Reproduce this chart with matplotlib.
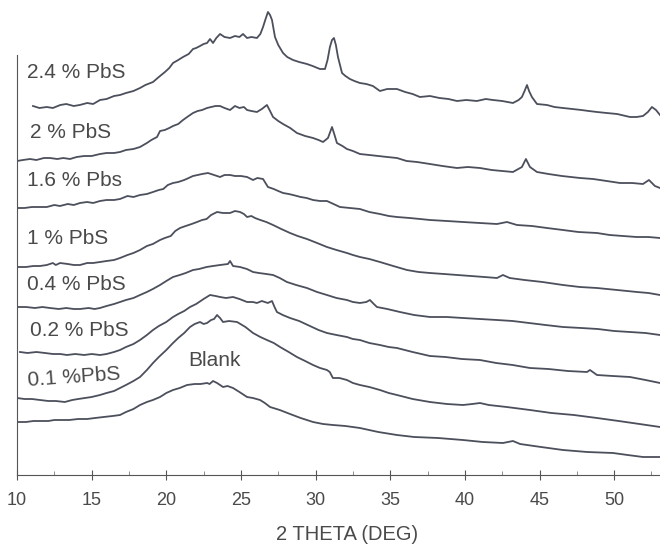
import matplotlib
matplotlib.use("Agg")
import matplotlib.pyplot as plt
import numpy as np

# (2 theta in deg, stacked intensity in arb. units)
pts_24 = [(11.07, 369), (11.5, 367), (12.0, 368), (12.4, 367), (12.9, 370), (13.3, 371), (13.8, 369),
          (14.2, 370), (14.7, 372), (15.1, 371), (15.56, 375), (16.0, 376), (16.5, 379), (16.9, 380),
          (17.3, 382), (17.8, 384), (18.24, 387), (18.6, 390), (19.11, 393), (19.5, 398), (19.91, 403),
          (20.2, 407), (20.45, 412), (20.8, 415), (21.12, 418), (21.5, 421), (21.79, 426), (22.0, 427),
          (22.26, 429), (22.5, 431), (22.73, 432), (22.93, 436), (23.13, 432), (23.35, 437), (23.6, 441),
          (23.9, 438), (24.27, 437), (24.6, 439), (24.9, 438), (25.14, 441), (25.41, 437), (25.7, 438),
          (26.07, 437), (26.3, 441), (26.48, 448), (26.65, 456), (26.81, 463), (26.95, 460), (27.08, 455),
          (27.28, 438), (27.5, 430), (27.82, 422), (28.1, 418), (28.49, 415), (28.9, 413), (29.42, 411),
          (29.8, 409), (30.29, 406), (30.63, 406), (30.8, 415), (30.96, 428), (31.1, 435), (31.23, 437),
          (31.36, 430), (31.5, 418), (31.77, 402), (32.0, 399), (32.3, 396), (32.6, 394), (32.97, 392),
          (33.4, 391), (33.84, 389), (34.31, 384), (34.8, 386), (35.45, 386), (36.0, 383), (36.5, 381),
          (36.99, 378), (37.66, 379), (38.3, 377), (38.9, 376), (39.47, 374), (40.1, 375), (40.8, 374),
          (41.4, 376), (41.88, 375), (42.5, 374), (43.22, 372), (43.6, 375), (43.82, 378), (44.0, 384),
          (44.16, 390), (44.3, 384), (44.49, 378), (44.83, 371), (45.5, 370), (46.0, 368), (46.57, 367),
          (47.2, 366), (47.8, 365), (48.3, 364), (48.85, 363), (49.5, 362), (50.2, 361), (51.06, 358),
          (51.5, 358), (51.93, 359), (52.26, 363), (52.53, 368), (52.8, 365), (53.07, 360)]

pts_2 = [(10.0, 314), (10.4, 315), (10.87, 316), (11.3, 315), (11.8, 317), (12.21, 317), (12.7, 316),
         (13.1, 317), (13.55, 316), (14.0, 318), (14.5, 319), (15.0, 319), (15.56, 321), (16.0, 322),
         (16.5, 322), (16.9, 323), (17.3, 325), (17.8, 326), (18.24, 328), (18.7, 332), (19.0, 335),
         (19.38, 338), (19.58, 344), (19.9, 345), (20.2, 347), (20.45, 349), (20.8, 351), (21.12, 355),
         (21.4, 358), (21.79, 362), (22.1, 364), (22.4, 365), (22.73, 367), (23.0, 368), (23.3, 369),
         (23.6, 369), (23.9, 367), (24.27, 365), (24.6, 369), (24.9, 367), (25.2, 368), (25.41, 365),
         (25.7, 364), (26.07, 363), (26.4, 366), (26.74, 370), (26.95, 364), (27.15, 358), (27.5, 354),
         (27.82, 351), (28.3, 347), (28.75, 342), (29.3, 339), (29.83, 337), (30.2, 335), (30.5, 333),
         (30.83, 337), (31.1, 348), (31.25, 341), (31.43, 332), (31.8, 329), (32.1, 326), (32.5, 324),
         (32.97, 321), (33.6, 320), (34.2, 319), (34.8, 318), (35.45, 317), (36.1, 314), (36.8, 313),
         (37.66, 311), (38.5, 309), (39.47, 307), (40.2, 308), (41.01, 307), (41.8, 305), (42.5, 304),
         (43.22, 303), (43.82, 308), (44.09, 316), (44.36, 308), (44.83, 303), (45.6, 301), (46.5, 299),
         (47.71, 297), (48.6, 296), (49.5, 294), (50.39, 292), (51.2, 292), (51.93, 291), (52.33, 295),
         (52.73, 289), (53.07, 287)]

pts_16 = [(10.0, 267), (10.5, 267), (11.0, 268), (11.54, 268), (12.0, 268), (12.5, 270), (12.88, 269),
          (13.4, 271), (13.8, 270), (14.22, 272), (14.7, 273), (15.1, 272), (15.56, 274), (16.0, 275),
          (16.5, 275), (16.9, 276), (17.4, 279), (17.8, 278), (18.24, 280), (18.7, 281), (19.11, 283),
          (19.5, 285), (19.8, 286), (20.1, 290), (20.45, 292), (20.8, 293), (21.2, 295), (21.5, 297),
          (21.79, 299), (22.1, 300), (22.4, 301), (22.79, 302), (23.2, 300), (23.6, 298), (23.9, 300),
          (24.27, 300), (24.6, 299), (25.0, 299), (25.41, 298), (25.81, 295), (26.1, 297), (26.48, 296),
          (26.81, 288), (27.2, 286), (27.5, 284), (27.82, 282), (28.2, 281), (28.49, 280), (29.0, 278),
          (29.4, 277), (29.83, 275), (30.3, 274), (30.76, 274), (31.2, 271), (31.63, 268), (32.3, 267),
          (32.97, 266), (33.6, 263), (34.31, 261), (34.9, 259), (35.45, 258), (36.3, 257), (37.0, 256),
          (37.66, 255), (38.8, 254), (39.87, 253), (41.0, 252), (42.15, 251), (42.82, 253), (43.49, 250),
          (44.5, 249), (45.5, 247), (46.57, 245), (47.6, 243), (48.85, 242), (49.7, 240), (50.59, 239),
          (51.5, 238), (52.3, 238), (53.07, 237)]

pts_1 = [(10.0, 208), (10.6, 208), (11.1, 209), (11.54, 209), (12.0, 210), (12.4, 212), (12.6, 210),
         (12.88, 212), (13.4, 211), (13.8, 210), (14.22, 210), (14.7, 212), (15.1, 212), (15.56, 213),
         (16.0, 214), (16.5, 215), (16.9, 217), (17.4, 220), (17.8, 222), (18.24, 225), (18.7, 229),
         (19.1, 231), (19.58, 235), (19.9, 237), (20.3, 239), (20.6, 244), (20.92, 247), (21.3, 249),
         (21.7, 251), (22.06, 253), (22.4, 255), (22.7, 256), (23.0, 260), (23.4, 263), (23.8, 262),
         (24.27, 262), (24.6, 264), (24.94, 263), (25.2, 261), (25.41, 258), (25.7, 259), (25.94, 257),
         (26.3, 255), (26.7, 253), (27.15, 250), (27.7, 246), (28.29, 242), (28.8, 239), (29.42, 236),
         (30.1, 232), (30.76, 228), (31.4, 225), (32.1, 222), (32.5, 220), (32.97, 218), (33.6, 216),
         (34.31, 213), (35.2, 209), (36.12, 205), (36.9, 203), (37.66, 202), (38.6, 201), (39.5, 200),
         (40.4, 199), (41.3, 198), (42.15, 197), (42.55, 200), (43.0, 197), (44.0, 195), (45.2, 193),
         (46.57, 190), (47.7, 188), (48.85, 187), (50.2, 185), (51.53, 183), (52.3, 182), (53.07, 180)]

pts_04 = [(10.0, 168), (10.6, 168), (11.2, 167), (11.7, 168), (12.21, 167), (12.8, 166), (13.3, 167),
          (13.8, 166), (14.22, 166), (14.8, 167), (15.2, 166), (15.56, 167), (16.0, 169), (16.5, 171),
          (16.9, 173), (17.3, 175), (17.8, 177), (18.24, 180), (18.7, 183), (19.1, 186), (19.58, 190),
          (20.0, 194), (20.45, 198), (20.9, 200), (21.3, 202), (21.79, 205), (22.2, 206), (22.7, 208),
          (23.13, 209), (23.6, 210), (24.13, 211), (24.27, 214), (24.47, 209), (24.94, 208), (25.4, 206),
          (25.81, 203), (26.2, 202), (26.7, 201), (27.15, 200), (27.6, 197), (28.08, 193), (28.7, 190),
          (29.42, 187), (30.1, 183), (30.76, 180), (31.4, 177), (32.1, 175), (32.5, 173), (32.97, 172),
          (33.4, 173), (33.64, 175), (33.9, 171), (34.11, 168), (34.8, 166), (35.65, 163), (36.6, 160),
          (37.66, 158), (38.8, 158), (39.87, 157), (41.0, 156), (42.15, 155), (43.2, 154), (44.3, 152),
          (45.4, 150), (46.57, 148), (47.8, 147), (48.9, 146), (50.0, 144), (51.06, 143), (52.1, 142),
          (53.07, 140)]

pts_02 = [(10.2, 123), (10.7, 122), (11.3, 123), (11.88, 122), (12.4, 121), (12.9, 121), (13.35, 120),
          (13.9, 121), (14.5, 120), (15.0, 121), (15.56, 120), (16.0, 121), (16.5, 123), (16.9, 125),
          (17.3, 128), (17.8, 131), (18.24, 135), (18.7, 140), (19.11, 145), (19.5, 149), (20.0, 153),
          (20.45, 158), (20.8, 161), (21.2, 164), (21.59, 168), (22.0, 171), (22.5, 176), (22.93, 180),
          (23.3, 179), (23.6, 178), (24.0, 177), (24.47, 178), (24.9, 176), (25.41, 173), (25.8, 173),
          (26.07, 172), (26.4, 174), (26.8, 172), (27.08, 174), (27.25, 168), (27.41, 163), (27.8, 160),
          (28.29, 157), (28.9, 154), (29.62, 149), (30.2, 145), (30.76, 142), (31.4, 140), (32.1, 138),
          (32.5, 136), (32.97, 135), (33.6, 132), (34.31, 130), (34.9, 128), (35.45, 127), (36.5, 123),
          (37.66, 119), (38.7, 118), (39.8, 116), (41.01, 115), (42.1, 112), (43.2, 110), (44.36, 107),
          (45.6, 106), (46.9, 104), (48.18, 103), (48.38, 105), (48.85, 100), (49.9, 99), (51.06, 98),
          (52.1, 95), (53.07, 92)]

pts_01 = [(10.0, 77), (10.5, 76), (11.0, 76), (11.54, 75), (12.1, 74), (12.6, 74), (13.2, 73),
          (13.7, 75), (14.1, 76), (14.55, 77), (15.0, 78), (15.56, 80), (16.0, 82), (16.5, 84),
          (16.9, 87), (17.3, 90), (17.8, 94), (18.24, 98), (18.7, 105), (19.11, 112), (19.5, 118),
          (20.0, 125), (20.45, 132), (20.8, 137), (21.2, 142), (21.59, 148), (21.9, 151), (22.26, 153),
          (22.5, 151), (22.73, 152), (23.0, 155), (23.2, 156), (23.4, 160), (23.6, 157), (23.8, 153),
          (24.2, 154), (24.74, 153), (25.3, 148), (25.81, 142), (26.3, 138), (26.74, 135), (27.2, 132),
          (27.62, 128), (28.2, 123), (28.75, 118), (29.3, 114), (29.83, 110), (30.3, 107), (30.76, 105),
          (30.95, 103), (31.16, 97), (31.6, 97), (32.1, 95), (32.5, 92), (32.97, 90), (33.6, 88),
          (34.31, 85), (34.9, 82), (35.45, 80), (36.5, 76), (37.66, 73), (38.8, 71), (39.87, 70),
          (40.5, 71), (41.01, 72), (41.6, 70), (42.8, 68), (44.36, 65), (45.8, 62), (47.3, 60),
          (48.85, 57), (50.3, 54), (51.7, 51), (53.07, 48)]

pts_blank = [(10.0, 53), (10.6, 53), (11.1, 54), (11.54, 54), (12.1, 54), (12.5, 55), (12.88, 55),
             (13.5, 55), (14.1, 56), (14.7, 56), (15.23, 57), (15.8, 58), (16.4, 59), (16.9, 60),
             (17.3, 63), (17.8, 66), (18.24, 70), (18.7, 73), (19.1, 75), (19.58, 78), (20.0, 82),
             (20.45, 85), (20.9, 87), (21.39, 90), (21.9, 91), (22.3, 91), (22.73, 92), (22.9, 91),
             (23.13, 94), (23.4, 92), (23.8, 88), (24.1, 89), (24.47, 87), (24.9, 83), (25.41, 78),
             (25.8, 77), (26.28, 75), (26.6, 72), (26.95, 68), (27.6, 65), (28.29, 61), (29.0, 57),
             (29.83, 53), (30.5, 51), (31.16, 50), (32.0, 49), (32.97, 47), (34.2, 43), (35.45, 40),
             (36.6, 38), (38.2, 37), (39.87, 35), (41.2, 33), (42.55, 32), (43.22, 34), (43.7, 31),
             (45.1, 28), (46.57, 25), (48.2, 23), (49.92, 22), (50.9, 20), (51.93, 18), (52.5, 18),
             (53.07, 18)]

sample_labels = ["2.4 % PbS", "2 % PbS", "1.6 % Pbs", "1 % PbS",
                 "0.4 % PbS", "0.2 % PbS", "0.1 %PbS", "Blank"]
label_x = [10.67, 10.87, 10.67, 10.67, 10.67, 10.87, 10.67, 21.45]
label_y = [403, 343, 294, 236, 190, 145, 98, 114]

x_ticks = [10, 15, 20, 25, 30, 35, 40, 45, 50]

plt.rcParams['font.family'] = ['Liberation Sans', 'DejaVu Sans']
line_c = '#4c4f5c'
text_c = '#4a4a4a'

fig = plt.figure(figsize=(6.6, 5.45), dpi=100)
ax = fig.add_axes([17 / 660, 70 / 545, 1 - 17 / 660, 475 / 545])

curves = [pts_24, pts_2, pts_16, pts_1, pts_04, pts_02, pts_01, pts_blank]
for pts in curves:
    th, inten = zip(*pts)
    ax.plot(th, inten, color=line_c, lw=1.3, solid_joinstyle='round')

for txt, lx, ly in zip(sample_labels, label_x, label_y):
    rot = 4 if txt == "0.1 %PbS" else 0
    ax.text(lx, ly, txt, fontsize=15, color=text_c, ha='left', va='center', rotation=rot)

ax.set_xlim(10, 53.07)
ax.set_ylim(0, 475)
ax.spines['top'].set_visible(False)
ax.spines['right'].set_visible(False)
ax.spines['left'].set_bounds(0, 420)
ax.spines['left'].set_color('#555555')
ax.spines['bottom'].set_color('#555555')
ax.set_yticks([])
ax.set_xticks(x_ticks)
ax.set_xticks(np.arange(12.5, 53, 5), minor=True)
ax.tick_params(axis='x', which='major', direction='inout', length=7, pad=9,
               labelsize=13, labelcolor=text_c, color='#555555')
ax.tick_params(axis='x', which='minor', direction='in', length=3, color='#777777')

fig.text(347 / 660, 1 - 535 / 545, "2 THETA (DEG)", fontsize=14.5, color=text_c,
         ha='center', va='center')

fig.savefig("out.png", dpi=100, facecolor='white')
